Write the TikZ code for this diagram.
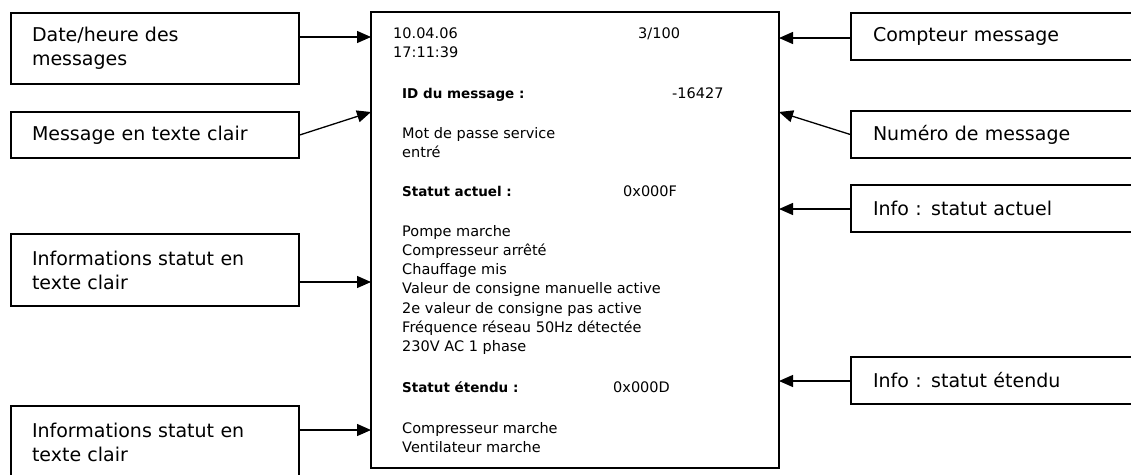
\documentclass[tikz,border=0pt]{standalone}
\usepackage{fontspec}
\setmainfont{DejaVu Sans}
\usetikzlibrary{arrows.meta}
\begin{document}
\begin{tikzpicture}[x=1pt,y=-1pt,
  lbox/.style={draw, line width=1.3pt, text width=246pt, inner xsep=21pt, inner ysep=0pt, align=left, font=\fontsize{19}{24}\selectfont},
  rbox/.style={draw, line width=1.3pt, text width=256pt, inner xsep=22pt, inner ysep=0pt, align=left, font=\fontsize{19}{24}\selectfont},
  mainbox/.style={draw, line width=1.3pt, minimum width=408pt, minimum height=456pt, inner sep=0pt},
  txt/.style={anchor=base west, inner sep=0pt, font=\fontsize{14.5}{19}\selectfont},
  btxt/.style={anchor=base west, inner sep=0pt, font=\fontsize{13.5}{19}\selectfont\bfseries},
  arr/.style={line width=1.3pt, -{Triangle[length=14pt,width=12pt]}}
]
\useasboundingbox (0,0) rectangle (1131,474);
\clip (0,0) rectangle (1131,474);

% main box
\node[mainbox] (main) at (575,240) {};

% left boxes
\node[lbox, minimum height=71pt] (l1) at (155,48.5) {Date/heure des\\messages};
\node[lbox, minimum height=46pt] (l2) at (155,135) {Message en texte clair};
\node[lbox, minimum height=72pt] (l3) at (155,270) {Informations statut en\\texte clair};
\node[lbox, minimum height=72pt] (l4) at (155,442) {Informations statut en\\texte clair};

% right boxes
\node[rbox, minimum height=47pt] (r1) at (1001,36.5) {Compteur message};
\node[rbox, minimum height=47pt] (r2) at (1001,134.5) {Numéro de message};
\node[rbox, minimum height=47pt] (r3) at (1001,208.5) {Info : statut actuel};
\node[rbox, minimum height=47pt] (r4) at (1001,380.5) {Info : statut étendu};

% anchor points on the main box
\coordinate (a1) at (371,37);
\coordinate (a2) at (371,112);
\coordinate (a3) at (371,282);
\coordinate (a4) at (371,430);
\coordinate (b1) at (779,38);
\coordinate (b2) at (779,112);
\coordinate (b3) at (779,209);
\coordinate (b4) at (779,381);

% connectors
\draw[arr] (l1.east |- a1) -- (a1);
\draw[arr] (l2.east) -- (a2);
\draw[arr] (l3.east |- a3) -- (a3);
\draw[arr] (l4.east |- a4) -- (a4);
\draw[arr] (r1.west |- b1) -- (b1);
\draw[arr] (r2.west) -- (b2);
\draw[arr] (r3.west |- b3) -- (b3);
\draw[arr] (r4.west |- b4) -- (b4);

% main box contents
\node[txt] (t1) at (393,38) {10.04.06};
\node[txt] (t2) at (393,57) {17:11:39};
\node[txt] (t3) at (638,38) {3/100};
\node[btxt] (t4) at (402,98) {ID du message :};
\node[txt] (t5) at (672,98) {-16427};
\node[txt] (t6) at (402,138) {Mot de passe service};
\node[txt] (t7) at (402,157) {entré};
\node[btxt] (t8) at (402,196) {Statut actuel :};
\node[txt] (t9) at (623,196) {0x000F};
\node[txt] (s1) at (402,236) {Pompe marche};
\node[txt] (s2) at (402,255.3) {Compresseur arrêté};
\node[txt] (s3) at (402,274.6) {Chauffage mis};
\node[txt] (s4) at (402,293.9) {Valeur de consigne manuelle active};
\node[txt] (s5) at (402,313.2) {2e valeur de consigne pas active};
\node[txt] (s6) at (402,332.5) {Fréquence réseau 50Hz détectée};
\node[txt] (s7) at (402,351.8) {230V AC 1 phase};
\node[btxt] (e1) at (402,392) {Statut étendu :};
\node[txt] (e2) at (613,392) {0x000D};
\node[txt] (e3) at (402,433) {Compresseur marche};
\node[txt] (e4) at (402,452.5) {Ventilateur marche};
\end{tikzpicture}
\end{document}
